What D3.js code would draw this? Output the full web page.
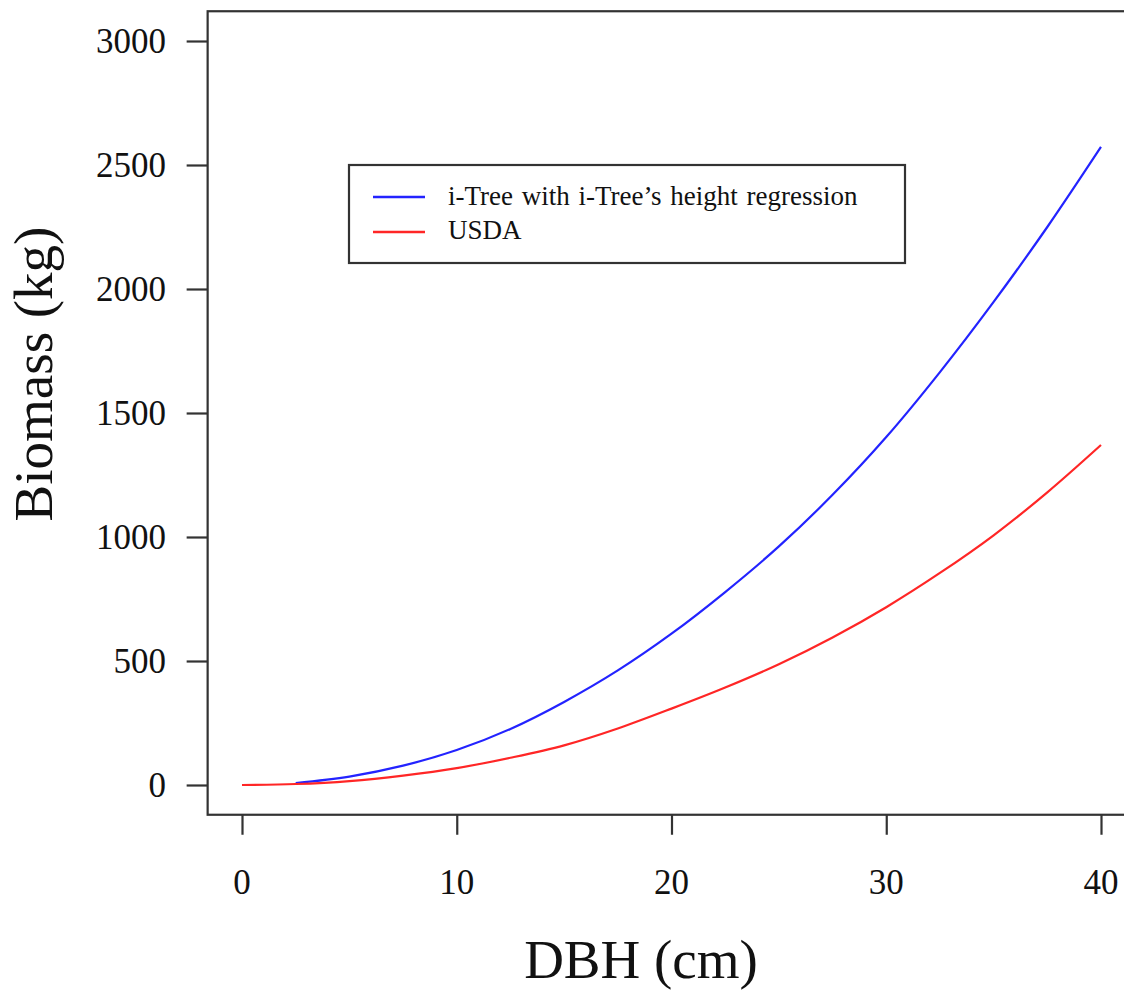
<!DOCTYPE html>
<html>
<head>
<meta charset="utf-8">
<script src="https://cdn.jsdelivr.net/npm/d3@7"></script>
<style>
  html, body { margin: 0; padding: 0; background: #fff; }
  svg { display: block; }
  text { font-family: "Liberation Serif", "Times New Roman", serif; fill: #111; }
</style>
</head>
<body>
<svg id="chart" width="1124" height="990"></svg>
<script>
// DBH (cm) sample points and biomass (kg) for each method
const dbhITree = [2.5, 5, 7.5, 10, 12.5, 15, 17.5, 20, 22.5, 25, 27.5, 30, 32.5, 35, 37.5, 40];
const biomassITree = [8, 34, 78, 141, 226, 335, 462, 610, 778, 962, 1170, 1403, 1665, 1948, 2250, 2573];

const dbhUSDA = [0, 2.5, 5, 7.5, 10, 12.5, 15, 17.5, 20, 22.5, 25, 27.5, 30, 32.5, 35, 37.5, 40];
const biomassUSDA = [0, 4, 16, 38, 68, 110, 160, 228, 308, 393, 487, 595, 717, 855, 1007, 1180, 1371];

const xTicks = [0, 10, 20, 30, 40];
const yTicks = [0, 500, 1000, 1500, 2000, 2500, 3000];

const seriesNames = ["i-Tree with i-Tree\u2019s height regression", "USDA"];
const seriesColors = ["#2323ff", "#ff2626"];

const svg = d3.select("#chart");

// Base-graphics style: data range padded by 4% on every side
const xMin = 0, xMax = 40, yMin = 0, yMax = 3000;
const xPad = (xMax - xMin) * 0.04, yPad = (yMax - yMin) * 0.04;

const x = d3.scaleLinear().domain([xMin, xMax]).range([242, 1101]);
const y = d3.scaleLinear().domain([yMin, yMax]).range([785, 41]);

const boxLeft = x(xMin - xPad), boxRight = x(xMax + xPad);
const boxTop = y(yMax + yPad), boxBottom = y(yMin - yPad);

const axisColor = "#333";

// Plot frame
svg.append("rect")
  .attr("x", boxLeft).attr("y", boxTop)
  .attr("width", boxRight - boxLeft).attr("height", boxBottom - boxTop)
  .attr("fill", "none").attr("stroke", axisColor).attr("stroke-width", 2.2);

// Y axis
const yAxis = d3.axisLeft(y).tickValues(yTicks).tickSize(21).tickFormat("");
const gy = svg.append("g").attr("transform", `translate(${boxLeft},0)`).call(yAxis);
gy.select(".domain").remove();
gy.selectAll(".tick line").attr("stroke", axisColor).attr("stroke-width", 2.2);

svg.append("g").selectAll("text").data(yTicks).join("text")
  .attr("x", 166).attr("y", d => y(d) + 12)
  .attr("text-anchor", "end")
  .attr("font-size", 35)
  .text(d => d);

// X axis
const xAxis = d3.axisBottom(x).tickValues(xTicks).tickSize(20).tickFormat("");
const gx = svg.append("g").attr("transform", `translate(0,${boxBottom})`).call(xAxis);
gx.select(".domain").remove();
gx.selectAll(".tick line").attr("stroke", axisColor).attr("stroke-width", 2.2);

svg.append("g").selectAll("text").data(xTicks).join("text")
  .attr("x", d => x(d)).attr("y", 894)
  .attr("text-anchor", "middle")
  .attr("font-size", 35)
  .text(d => d);

// Axis titles
svg.append("text")
  .attr("x", 641).attr("y", 978)
  .attr("text-anchor", "middle")
  .attr("font-size", 55)
  .text("DBH (cm)");

svg.append("text")
  .attr("transform", "translate(52,374) rotate(-90)")
  .attr("text-anchor", "middle")
  .attr("font-size", 55)
  .text("Biomass (kg)");

// Curves
const line = d3.line()
  .x(d => x(d[0]))
  .y(d => y(d[1]))
  .curve(d3.curveMonotoneX);

const series = [
  d3.zip(dbhITree, biomassITree),
  d3.zip(dbhUSDA, biomassUSDA)
];

svg.append("g").selectAll("path").data(series).join("path")
  .attr("d", line)
  .attr("fill", "none")
  .attr("stroke", (d, i) => seriesColors[i])
  .attr("stroke-width", 2.2);

// Legend
const legend = svg.append("g");
legend.append("rect")
  .attr("x", 349).attr("y", 165).attr("width", 556).attr("height", 98)
  .attr("fill", "#fff").attr("stroke", axisColor).attr("stroke-width", 2.2);

const rows = legend.selectAll("g.row").data(seriesNames).join("g").attr("class", "row");
rows.append("line")
  .attr("x1", 373).attr("x2", 425)
  .attr("y1", (d, i) => 197 + i * 35).attr("y2", (d, i) => 197 + i * 35)
  .attr("stroke", (d, i) => seriesColors[i]).attr("stroke-width", 2.5);
rows.append("text")
  .attr("x", 448).attr("y", (d, i) => 205 + i * 34)
  .attr("font-size", 27)
  .attr("word-spacing", 2)
  .text(d => d);
</script>
</body>
</html>
